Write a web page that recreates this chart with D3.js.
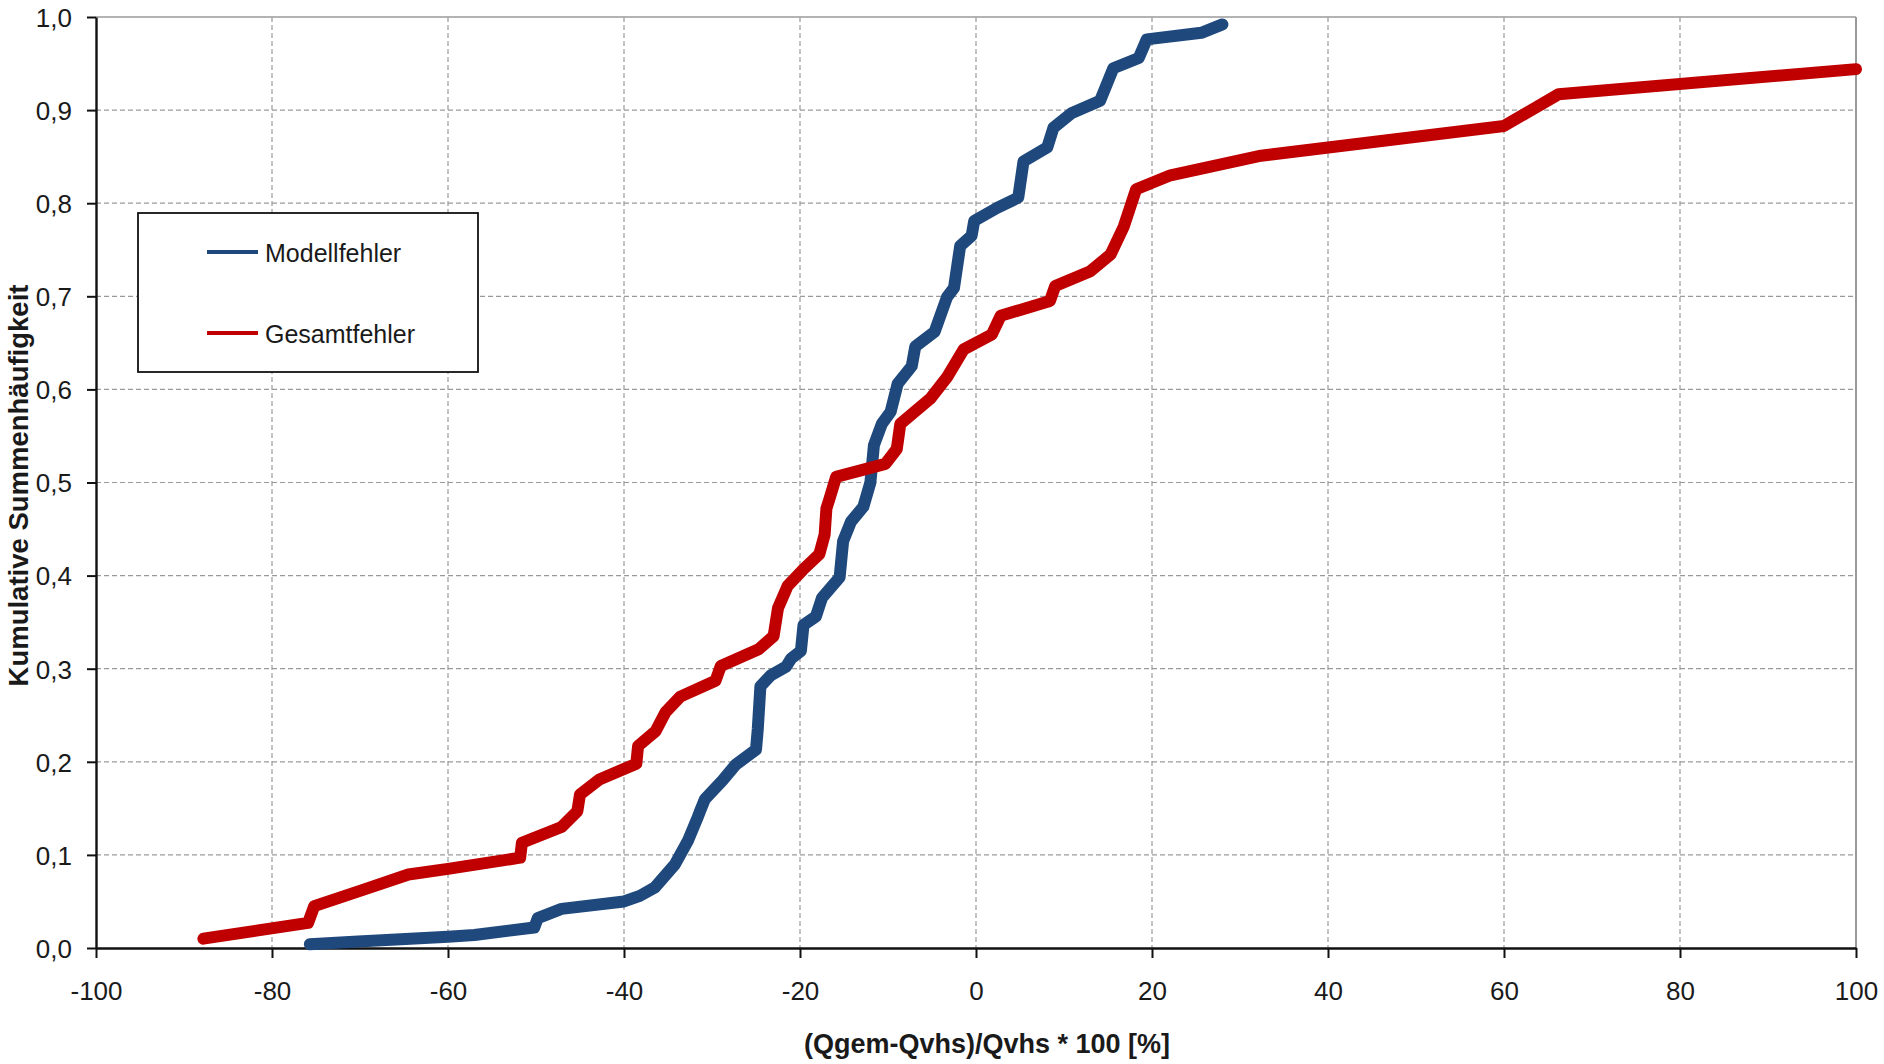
<!DOCTYPE html>
<html>
<head>
<meta charset="utf-8">
<script src="https://cdn.jsdelivr.net/npm/d3@7"></script>
<style>
  html, body { margin: 0; padding: 0; background: #fff; }
  svg { display: block; }
  text { font-family: "Liberation Sans", Arial, sans-serif; fill: #1a1a1a; }
</style>
</head>
<body>
<svg id="chart" width="1884" height="1064"></svg>
<script>
// Empirical cumulative distribution of the relative discharge error
// x = (Qgem-Qvhs)/Qvhs * 100 [%], p = cumulative frequency
const modellfehler = [
  [-75.7, 0.004], [-70.2, 0.007], [-60.0, 0.012], [-57.0, 0.014], [-50.2, 0.022],
  [-49.8, 0.032], [-47.1, 0.042], [-40.0, 0.050], [-38.2, 0.056], [-36.5, 0.065],
  [-34.2, 0.090], [-32.7, 0.116], [-31.6, 0.141], [-31.4, 0.146], [-30.8, 0.160],
  [-28.8, 0.180], [-27.3, 0.197], [-25.0, 0.213], [-24.8, 0.235], [-24.5, 0.281],
  [-23.3, 0.293], [-21.6, 0.302], [-21.0, 0.311], [-19.9, 0.319], [-19.6, 0.347],
  [-18.2, 0.356], [-17.5, 0.376], [-15.5, 0.398], [-15.1, 0.437], [-14.2, 0.458],
  [-12.8, 0.474], [-12.0, 0.500], [-11.6, 0.540], [-10.7, 0.563], [-9.7, 0.576],
  [-8.9, 0.606], [-7.3, 0.625], [-6.9, 0.646], [-4.7, 0.662], [-3.3, 0.699],
  [-2.5, 0.709], [-1.8, 0.754], [-0.5, 0.765], [-0.2, 0.781], [2.4, 0.795],
  [4.8, 0.806], [5.4, 0.845], [8.1, 0.860], [8.8, 0.881], [10.9, 0.897],
  [14.1, 0.910], [15.6, 0.945], [18.5, 0.956], [19.4, 0.976], [25.6, 0.983],
  [28.0, 0.992]
];

const gesamtfehler = [
  [-87.8, 0.010], [-75.9, 0.027], [-75.2, 0.045], [-69.5, 0.063], [-64.5, 0.079],
  [-60.0, 0.085], [-51.8, 0.097], [-51.6, 0.113], [-47.1, 0.130], [-45.3, 0.147],
  [-45.0, 0.165], [-42.8, 0.181], [-38.6, 0.198], [-38.4, 0.217], [-36.4, 0.233],
  [-35.3, 0.253], [-33.6, 0.270], [-29.6, 0.287], [-29.0, 0.303], [-24.7, 0.321],
  [-23.0, 0.335], [-22.5, 0.365], [-21.4, 0.389], [-19.7, 0.406], [-17.8, 0.423],
  [-17.2, 0.444], [-17.0, 0.472], [-16.7, 0.481], [-15.9, 0.506], [-13.1, 0.513],
  [-10.3, 0.520], [-9.0, 0.536], [-8.6, 0.563], [-5.2, 0.590], [-3.3, 0.613],
  [-1.4, 0.643], [1.8, 0.659], [2.8, 0.679], [8.4, 0.695], [9.0, 0.711],
  [13.0, 0.727], [15.3, 0.745], [16.8, 0.775], [18.2, 0.815], [22.1, 0.830],
  [32.4, 0.851], [60.0, 0.883], [66.2, 0.917], [100.0, 0.944]
];

const xTickValues = [-100, -80, -60, -40, -20, 0, 20, 40, 60, 80, 100];
const xTickLabels = ["-100", "-80", "-60", "-40", "-20", "0", "20", "40", "60", "80", "100"];
const yTickValues = [0, 0.1, 0.2, 0.3, 0.4, 0.5, 0.6, 0.7, 0.8, 0.9, 1.0];
const yTickLabels = ["0,0", "0,1", "0,2", "0,3", "0,4", "0,5", "0,6", "0,7", "0,8", "0,9", "1,0"];

const seriesNames = ["Modellfehler", "Gesamtfehler"];
const seriesColors = ["#1f497d", "#c00000"];

const xTitle = "(Qgem-Qvhs)/Qvhs * 100 [%]";
const yTitle = "Kumulative Summenhäufigkeit";

// Layout
const plot = { left: 96, right: 1856, top: 17, bottom: 948 };

const svg = d3.select("#chart");

const x = d3.scaleLinear().domain([-100, 100]).range([plot.left, plot.right]);
const y = d3.scaleLinear().domain([0, 1]).range([plot.bottom, plot.top]);

// Dashed grid
const grid = svg.append("g").attr("class", "grid")
  .attr("stroke", "#9a9a9a").attr("stroke-width", 1.2).attr("stroke-dasharray", "5,3");

grid.selectAll("line.v")
  .data(xTickValues.filter(v => v > -100 && v < 100))
  .join("line").attr("class", "v")
  .attr("x1", d => x(d)).attr("x2", d => x(d))
  .attr("y1", y(1)).attr("y2", y(0));

grid.selectAll("line.h")
  .data(yTickValues.filter(v => v > 0 && v < 1))
  .join("line").attr("class", "h")
  .attr("x1", x(-100)).attr("x2", x(100))
  .attr("y1", d => y(d)).attr("y2", d => y(d));

// Plot frame: top and right in gray
svg.append("line")
  .attr("x1", x(-100)).attr("x2", x(100)).attr("y1", y(1)).attr("y2", y(1))
  .attr("stroke", "#9a9a9a").attr("stroke-width", 1.6);
svg.append("line")
  .attr("x1", x(100)).attr("x2", x(100)).attr("y1", y(1)).attr("y2", y(0))
  .attr("stroke", "#9a9a9a").attr("stroke-width", 2);

// Axes
const xAxis = d3.axisBottom(x)
  .tickValues(xTickValues)
  .tickFormat((d, i) => xTickLabels[i])
  .tickSize(10).tickSizeOuter(0);

const yAxis = d3.axisLeft(y)
  .tickValues(yTickValues)
  .tickFormat((d, i) => yTickLabels[i])
  .tickSize(9).tickSizeOuter(0);

const gx = svg.append("g").attr("transform", `translate(0,${plot.bottom})`).call(xAxis);
const gy = svg.append("g").attr("transform", `translate(${plot.left},0)`).call(yAxis);

[gx, gy].forEach(g => {
  g.select(".domain").attr("stroke", "#111").attr("stroke-width", 2.4);
  g.selectAll(".tick line").attr("stroke", "#111").attr("stroke-width", 2);
  g.selectAll(".tick text")
    .attr("font-family", "'Liberation Sans', Arial, sans-serif")
    .attr("font-size", 26).attr("fill", "#1a1a1a");
});
gx.selectAll(".tick text").attr("dy", null).attr("y", 52);
gy.selectAll(".tick text").attr("x", -24).attr("dy", "0.36em");

// Curves
const line = d3.line().x(d => x(d[0])).y(d => y(d[1]));

[modellfehler, gesamtfehler].forEach((data, i) => {
  svg.append("path")
    .datum(data)
    .attr("fill", "none")
    .attr("stroke", seriesColors[i])
    .attr("stroke-width", 12)
    .attr("stroke-linejoin", "round")
    .attr("stroke-linecap", "round")
    .attr("d", line);
});

// Axis titles
svg.append("text")
  .attr("x", 987).attr("y", 1053)
  .attr("text-anchor", "middle")
  .attr("font-weight", "bold").attr("font-size", 27)
  .text(xTitle);

svg.append("text")
  .attr("transform", `translate(28,${(plot.top + plot.bottom) / 2 + 3}) rotate(-90)`)
  .attr("text-anchor", "middle")
  .attr("font-weight", "bold").attr("font-size", 27.5)
  .text(yTitle);

// Legend
const legend = svg.append("g").attr("class", "legend");
legend.append("rect")
  .attr("x", 138).attr("y", 213).attr("width", 340).attr("height", 159)
  .attr("fill", "#fff").attr("stroke", "#111").attr("stroke-width", 1.8);

const legendRows = [252, 333];
seriesNames.forEach((name, i) => {
  legend.append("line")
    .attr("x1", 207).attr("x2", 258)
    .attr("y1", legendRows[i]).attr("y2", legendRows[i])
    .attr("stroke", seriesColors[i]).attr("stroke-width", 4);
  legend.append("text")
    .attr("x", 265).attr("y", legendRows[i] + 10)
    .attr("font-size", 25)
    .text(name);
});
</script>
</body>
</html>
